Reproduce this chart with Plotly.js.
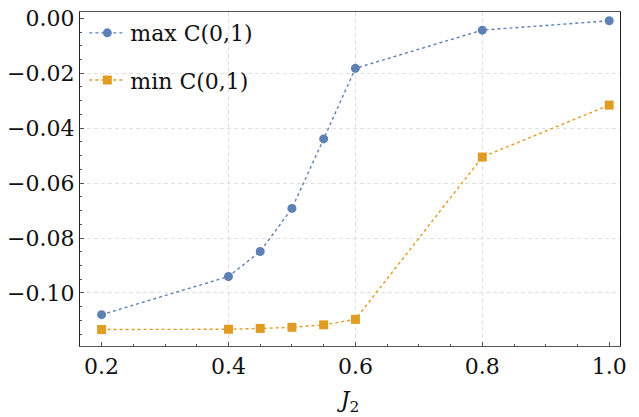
<!DOCTYPE html>
<html>
<head>
<meta charset="utf-8">
<script src="https://cdn.plot.ly/plotly-3.0.1.min.js"></script>
<style>html,body{margin:0;padding:0;background:#fff;}#chart{width:639px;height:417px;}</style>
</head>
<body>
<div id="chart"></div>
<script>
const J2 = [0.2, 0.4, 0.45, 0.5, 0.55, 0.6, 0.8, 1.0];
const maxC = [-0.1079, -0.0940, -0.0849, -0.0692, -0.0439, -0.0182, -0.0043, -0.0009];
const minC = [-0.1133, -0.1132, -0.1129, -0.1125, -0.1116, -0.1096, -0.0505, -0.0316];
const seriesNames = ["max C(0,1)", "min C(0,1)"];
const xTicks = [0.2, 0.4, 0.6, 0.8, 1.0];
const xGrid = [0.4, 0.6, 0.8];
const yTicks = [0.0, -0.02, -0.04, -0.06, -0.08, -0.10];
const yGrid = [-0.02, -0.04, -0.06, -0.08, -0.10];

const blue = "#5E81B5", orange = "#E19C24";
const font = "DejaVu Serif";
const fs = 22;
const xRange = [0.166, 1.017];
const yRange = [-0.1193, 0.0023];

const traces = [
  {x: J2, y: maxC, name: seriesNames[0], type: "scatter", mode: "lines+markers",
   line: {color: blue, width: 1.4, dash: "3px,3px"},
   marker: {color: blue, size: 9, symbol: "circle"}, legend: "legend"},
  {x: J2, y: minC, name: seriesNames[1], type: "scatter", mode: "lines+markers",
   line: {color: orange, width: 1.4, dash: "3px,3px"},
   marker: {color: orange, size: 9, symbol: "square"}, legend: "legend2"},
  {x: J2, y: maxC, xaxis: "x2", yaxis: "y2", type: "scatter", mode: "markers",
   marker: {opacity: 0}, showlegend: false, hoverinfo: "skip"}
];

const layout = {
  width: 639, height: 417,
  margin: {l: 80, r: 19, t: 12, b: 71},
  paper_bgcolor: "#fff", plot_bgcolor: "#fff",
  font: {family: font, size: fs, color: "#111"},
  showlegend: true,
  xaxis: {
    range: xRange, tickmode: "array", tickvals: xTicks, tickformat: ".1f",
    showgrid: false, zeroline: false,
    showline: true, linecolor: "#555", linewidth: 1.2, mirror: true,
    ticks: "inside", ticklen: 4, tickcolor: "#555",
    minor: {dtick: 0.05, tick0: 0, ticks: "inside", ticklen: 2, tickcolor: "#555", showgrid: false},
    tickfont: {family: font, size: fs, color: "#111"},
    title: {text: "<i>J</i><sub>2</sub>", font: {family: font, size: fs, color: "#111"}, standoff: 14}
  },
  yaxis: {
    range: yRange, tickmode: "array", tickvals: yTicks, tickformat: ".2f",
    showgrid: false, zeroline: false,
    showline: true, linecolor: "#222", linewidth: 1.2, mirror: true,
    ticks: "inside", ticklen: 4, tickcolor: "#555",
    minor: {dtick: 0.005, tick0: 0, ticks: "inside", ticklen: 2, tickcolor: "#555", showgrid: false},
    tickfont: {family: font, size: fs, color: "#111"}
  },
  xaxis2: {
    overlaying: "x", range: xRange, tickmode: "array", tickvals: xGrid,
    showticklabels: false, ticks: "", showline: false, zeroline: false,
    showgrid: true, gridcolor: "#e0e0e0", gridwidth: 1, griddash: "4px,3px"
  },
  yaxis2: {
    overlaying: "y", range: yRange, tickmode: "array", tickvals: yGrid,
    showticklabels: false, ticks: "", showline: false, zeroline: false,
    showgrid: true, gridcolor: "#e0e0e0", gridwidth: 1, griddash: "4px,3px"
  },
  legend: {x: 0.008, y: 0.937, xanchor: "left", yanchor: "middle", itemwidth: 36,
    bgcolor: "rgba(0,0,0,0)", font: {family: font, size: fs, color: "#111"}},
  legend2: {x: 0.008, y: 0.796, xanchor: "left", yanchor: "middle", itemwidth: 36,
    bgcolor: "rgba(0,0,0,0)", font: {family: font, size: fs, color: "#111"}}
};

Plotly.newPlot("chart", traces, layout, {displayModeBar: false, staticPlot: true});
</script>
</body>
</html>
